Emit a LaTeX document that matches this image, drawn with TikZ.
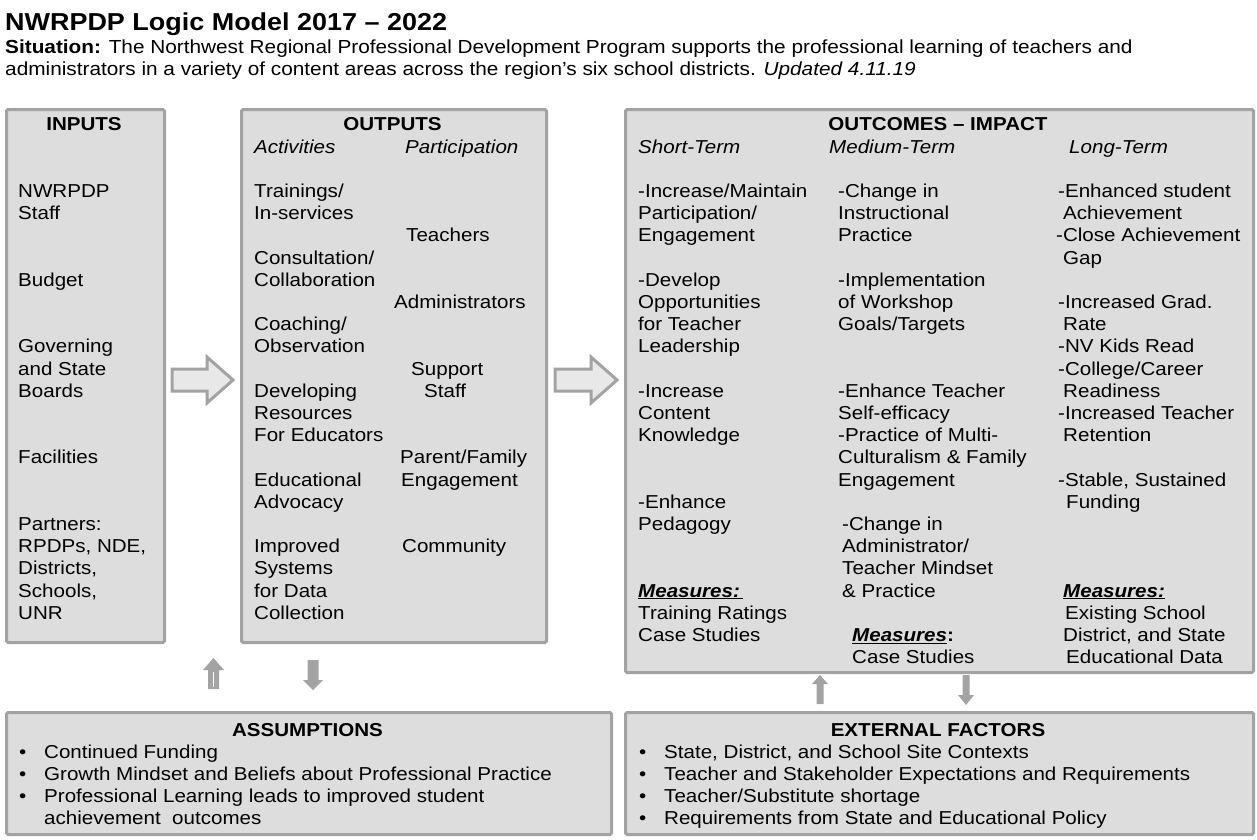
\documentclass[tikz,border=0pt]{standalone}
\usepackage{fontspec}
\setmainfont[FakeStretch=1.1]{Liberation Sans}
\usetikzlibrary{calc}

\definecolor{boxfill}{HTML}{DDDDDD}
\definecolor{boxline}{HTML}{A3A3A3}
\definecolor{flowfill}{HTML}{E8E8E8}

\newcommand\bodysize{\fontsize{18.7}{22}\selectfont}

% one text line per entry, on the common row grid (row 0 = first item row)
\newcommand\textcol[4]{%
  \foreach \t [count=\i from #3] in {#4}
    \node[txt] (#1-\i) at (#2, {197.5+22.2*\i}) {\t};}

% bullet list lines
\newcommand\bulletline[4]{%
  \node[txt] (#1-dot) at (#2, #3) {\textbullet};
  \node[txt] (#1) at (#2+25, #3) {#4};}

% wide hollow block arrow pointing right
\newcommand\blockarrow[4]{%
  \draw[flow] (#2,#4-11) -- (#3-26,#4-11) -- (#3-26,#4-23) -- (#3,#4)
     -- (#3-26,#4+23) -- (#3-26,#4+11) -- (#2,#4+11) -- cycle;
  \coordinate (#1) at (#3,#4);}

\tikzset{
  panel/.style={draw=boxline, fill=boxfill, line width=3pt, rounded corners=1.5pt,
                anchor=north west, inner sep=0pt},
  txt/.style={anchor=base west, inner sep=0pt, font=\bodysize},
  hdr/.style={anchor=base, inner sep=0pt, font=\bfseries\bodysize},
  sub/.style={anchor=base west, inner sep=0pt, font=\itshape\bodysize},
  flow/.style={draw=boxline, fill=flowfill, line width=3pt, line join=miter},
  tick/.style={fill=boxline, draw=none},
}

\begin{document}
\begin{tikzpicture}[x=1pt,y=-1pt]
\useasboundingbox (0,0) rectangle (1257,839);

% title and situation
\node[anchor=base west, inner sep=0pt, font=\bfseries\fontsize{24.5}{26}\selectfont] (title) at (5,30)
  {NWRPDP Logic Model 2017 – 2022};
\node[anchor=base west, inner sep=0pt, font=\fontsize{18.9}{22}\selectfont] (sit1) at (5,53)
  {\textbf{Situation:} The Northwest Regional Professional Development Program supports the professional learning of teachers and};
\node[anchor=base west, inner sep=0pt, font=\fontsize{18.9}{22}\selectfont] (sit2) at (5,75)
  {administrators in a variety of content areas across the region’s six school districts. \textit{Updated 4.11.19}};

% panels
\node[panel, minimum width=158pt, minimum height=533pt] (inputs) at (5,108) {};
\node[panel, minimum width=305pt, minimum height=533pt] (outputs) at (240,108) {};
\node[panel, minimum width=628pt, minimum height=563pt] (outcomes) at (624,108) {};
\node[panel, minimum width=605pt, minimum height=122pt] (assume) at (5,711) {};
\node[panel, minimum width=628pt, minimum height=122pt] (external) at (624,711) {};

% flow between panels
\blockarrow{flowA}{172}{233}{380}
\blockarrow{flowB}{555}{617}{380}

% small arrows between the top and bottom rows
\fill[tick] (208,689) -- (208,670) -- (203,670) -- (213.5,658) -- (224,670) -- (219,670) -- (219,689) -- cycle;
\draw[white, line width=1.2pt] (213.5,672) -- (213.5,687);
\fill[tick] (307.5,660) -- (318.5,660) -- (318.5,680) -- (323,680) -- (313,690) -- (303,680) -- (307.5,680) -- cycle;
\fill[tick] (816.5,704) -- (816.5,684) -- (812,684) -- (820,675) -- (828,684) -- (823.5,684) -- (823.5,704) -- cycle;
\fill[tick] (962.5,675) -- (969.5,675) -- (969.5,695) -- (974,695) -- (966,705) -- (958,695) -- (962.5,695) -- cycle;

% headers
\node[hdr] (h-in) at (84,{197.5-3*22.2}) {INPUTS};
\node[hdr] (h-out) at (392.5,{197.5-3*22.2}) {OUTPUTS};
\node[hdr] (h-oc) at (938,{197.5-3*22.2}) {OUTCOMES – IMPACT};
\node[sub] (s-act) at (254,{197.5-2*22.2}) {Activities};
\node[sub] (s-par) at (405,{197.5-2*22.2}) {Participation};
\node[sub] (s-st) at (638,{197.5-2*22.2}) {Short-Term};
\node[sub] (s-md) at (829,{197.5-2*22.2}) {Medium-Term};
\node[sub] (s-lt) at (1069,{197.5-2*22.2}) {Long-Term};

% inputs
\textcol{inA}{18}{0}{NWRPDP, Staff}
\textcol{inB}{18}{4}{Budget}
\textcol{inC}{18}{7}{Governing, and State, Boards}
\textcol{inD}{18}{12}{Facilities}
\textcol{inE}{18}{15}{Partners:, {RPDPs, NDE,}, {Districts,}, {Schools,}, UNR}

% outputs: activities
\textcol{actA}{254}{0}{Trainings/, In-services}
\textcol{actB}{254}{3}{Consultation/, Collaboration}
\textcol{actC}{254}{6}{Coaching/, Observation}
\textcol{actD}{254}{9}{Developing, Resources, For Educators}
\textcol{actE}{254}{13}{Educational, Advocacy}
\textcol{actF}{254}{16}{Improved, Systems, for Data, Collection}

% outputs: participation
\textcol{parA}{406}{2}{Teachers}
\textcol{parB}{394}{5}{Administrators}
\textcol{parC}{411}{8}{Support}
\textcol{parD}{424}{9}{Staff}
\textcol{parE}{400}{12}{Parent/Family}
\textcol{parF}{401}{13}{Engagement}
\textcol{parG}{402}{16}{Community}

% outcomes: short-term
\textcol{stA}{638}{0}{-Increase/Maintain, Participation/, Engagement}
\textcol{stB}{638}{4}{-Develop, Opportunities, for Teacher, Leadership}
\textcol{stC}{638}{9}{-Increase, Content, Knowledge}
\textcol{stD}{638}{14}{-Enhance, Pedagogy}
\node[txt] (stM) at (638,{197.5+18*22.2}) {\underline{\textbf{\textit{Measures:}}\,}};
\textcol{stE}{638}{19}{Training Ratings, Case Studies}

% outcomes: medium-term
\textcol{mdA}{838}{0}{-Change in, Instructional, Practice}
\textcol{mdB}{838}{4}{-Implementation, of Workshop, Goals/Targets}
\textcol{mdC}{838}{9}{-Enhance Teacher, Self-efficacy, -Practice of Multi-, Culturalism \& Family, Engagement}
\textcol{mdD}{842}{15}{-Change in, Administrator/, Teacher Mindset, \& Practice}
\node[txt] (mdM) at (852,{197.5+20*22.2}) {\underline{\textbf{\textit{Measures}}}\textbf{:}};
\textcol{mdE}{852}{21}{Case Studies}

% outcomes: long-term
\textcol{ltA}{1058}{0}{-Enhanced student}
\textcol{ltB}{1063}{1}{Achievement}
\textcol{ltC}{1056}{2}{-Close Achievement}
\textcol{ltD}{1063}{3}{Gap}
\textcol{ltE}{1058}{5}{-Increased Grad.}
\textcol{ltF}{1063}{6}{Rate}
\textcol{ltG}{1058}{7}{-NV Kids Read, -College/Career}
\textcol{ltH}{1063}{9}{Readiness}
\textcol{ltI}{1058}{10}{-Increased Teacher}
\textcol{ltJ}{1063}{11}{Retention}
\textcol{ltK}{1058}{13}{{-Stable, Sustained}}
\textcol{ltL}{1066}{14}{Funding}
\node[txt] (ltM) at (1063,{197.5+18*22.2}) {\underline{\textbf{\textit{Measures:}}}};
\textcol{ltN}{1065}{19}{Existing School}
\textcol{ltO}{1063}{20}{{District, and State}}
\textcol{ltP}{1066}{21}{Educational Data}

% assumptions
\node[hdr] (h-as) at (307.5,736) {ASSUMPTIONS};
\bulletline{asA}{19}{758}{Continued Funding}
\bulletline{asB}{19}{780}{Growth Mindset and Beliefs about Professional Practice}
\bulletline{asC}{19}{802}{Professional Learning leads to improved student}
\node[txt] (asD) at (44,824) {achievement\ \ outcomes};

% external factors
\node[hdr] (h-ex) at (938,736) {EXTERNAL FACTORS};
\bulletline{exA}{639}{758}{State, District, and School Site Contexts}
\bulletline{exB}{639}{780}{Teacher and Stakeholder Expectations and Requirements}
\bulletline{exC}{639}{802}{Teacher/Substitute shortage}
\bulletline{exD}{639}{824}{Requirements from State and Educational Policy}
\end{tikzpicture}
\end{document}
